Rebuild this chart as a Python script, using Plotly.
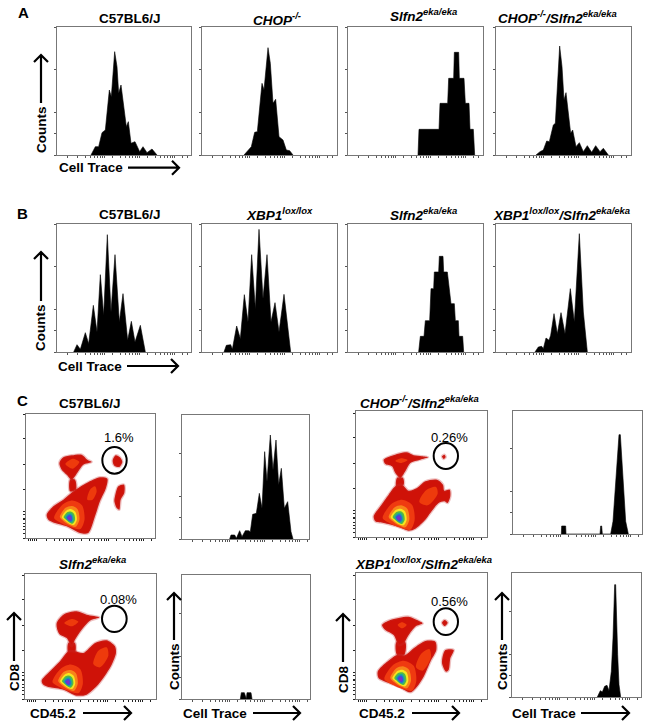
import plotly.graph_objects as go

W, H = 650, 725

# ---------- histogram outlines: channel (x) and counts (y) ----------
a1_x = [102,115,125,135,145,157,163,173,180,185,192,200,208,214,222,234,248,258,270,285,300]
a1_y = [0,25,25,67,75,195,175,310,265,185,210,145,85,100,35,40,10,25,7,18,0]
a2_x = [126,138,148,158,166,180,186,198,205,213,221,231,243,253,263,273]
a2_y = [0,15,25,68,70,215,195,322,275,155,167,55,45,15,13,0]
a3_x = [210,213,273,276,299,302,317,319,332,334,348,352,363,366,376,380]
a3_y = [0,77,77,155,155,230,230,308,308,230,230,155,155,77,77,0]
a4_x = [120,132,142,152,160,172,178,191,198,204,210,218,224,230,240,250,262,274,287,299,312,322,337]
a4_y = [0,10,15,42,40,90,95,327,265,165,187,125,65,75,25,37,10,28,8,28,10,20,0]
b1_x = [50,60,70,85,95,109,120,130,140,151,162,174,187,198,212,223,234,250,265]
b1_y = [0,22,8,58,25,140,60,232,110,352,120,292,90,175,35,92,30,80,0]
b2_x = [66,73,86,91,104,115,127,138,149,160,171,183,195,207,219,231,246,266]
b2_y = [0,20,22,8,78,40,172,90,292,130,368,160,292,90,148,60,173,0]
b3_x = [212,217,228,232,245,249,257,259,272,274,285,287,298,303,309,319,322,331,333,344,347]
b3_y = [0,47,47,94,94,190,190,240,240,287,287,240,240,190,145,145,94,94,47,47,0]
b4_x = [117,127,137,142,150,159,164,174,184,195,207,223,235,250,262,274]
b4_y = [0,15,17,10,42,35,50,115,55,118,55,190,90,355,120,0]
c1_x = [143,147,158,163,173,180,190,200,205,212,223,232,240,248,255,265,273,282,290,298,307,317,327,333]
c1_y = [0,12,12,2,25,7,25,25,22,74,77,137,92,262,172,312,207,297,162,212,92,112,22,0]
c2_x = [145,146,158,159,261,263,266,268,293,300,318,322,338,346]
c2_y = [0,24,24,0,0,24,24,0,0,38,298,298,38,0]
c3_x = [175,178,187,191,193,195,207,210]
c3_y = [0,19,19,0,0,19,19,0]
c4_x = [256,265,271,278,285,291,298,303,308,311,317,321,326]
c4_y = [0,19,15,32,35,19,77,177,337,337,127,37,0]

# ---------- density populations (CD45.2, CD8) ----------
d1_main = [(62,70),(82,95),(112,115),(142,140),(182,165),(222,182),(244,178),(240,150),(222,110),(207,65),(187,15),(162,15),(122,35),(87,45),(67,55)]
d1_top = [(100,225),(112,242),(137,248),(167,250),(184,235),(197,228),(172,220),(157,200),(147,185),(137,175),(122,190),(107,205)]
d1_tail = [(132,175),(147,175),(150,145),(132,140)]
d1_dot = [(260,232),(269,248),(282,242),(289,228),(280,213),(265,217)]
d1_right = [(267,125),(277,155),(294,160),(295,135),(284,115),(280,85),(272,90),(265,110)]
d1_gate = (229,273,302,193)
d1_center = (130,60)

d2_main = [(53,62),(73,92),(98,127),(118,152),(138,157),(158,139),(183,147),(208,167),(243,172),(261,157),(265,139),(281,142),(283,122),(275,102),(265,107),(248,102),(223,72),(208,52),(178,25),(158,19),(123,32),(83,42),(58,47)]
d2_top = [(83,232),(108,244),(153,254),(173,245),(198,242),(216,239),(193,232),(163,222),(148,197),(133,177),(118,192),(108,212),(88,219)]
d2_tail = [(123,177),(141,177),(143,157),(121,152)]
d2_dot = [(258,242),(265,247),(269,240),(263,234)]
d2_gate = (233,282,306,204)
d2_center = (128,57)

d3_main = [(50,55),(75,83),(105,113),(130,143),(150,143),(175,138),(210,168),(245,176),(270,158),(273,138),(260,103),(235,63),(215,38),(185,13),(155,10),(115,28),(75,35),(55,43)]
d3_top = [(95,228),(115,253),(155,263),(185,253),(223,245),(195,235),(170,208),(150,178),(140,158),(125,183),(105,193),(97,208)]
d3_tail = [(130,168),(150,168),(150,138),(130,138)]
d3_gate = (231,280,305,201)
d3_center = (128,51)

d4_main = [(65,82),(88,107),(123,132),(148,132),(173,152),(208,174),(238,172),(241,147),(223,112),(203,67),(183,37),(163,20),(128,37),(88,52),(68,62)]
d4_top = [(78,222),(103,237),(158,247),(183,237),(200,227),(178,217),(158,192),(143,167),(128,162),(113,192),(88,207)]
d4_tail = [(121,170),(148,170),(145,132),(123,132)]
d4_dot = [(258,229),(266,237),(275,229),(266,219)]
d4_right = [(261,132),(268,147),(293,147),(283,122),(278,87),(270,82),(258,107)]
d4_gate = (233,272,306,192)
d4_center = (133,60)

# nested density levels, as offsets from the densest point
core_levels = [
    [(-48,0),(-22,42),(10,55),(40,40),(48,-5),(35,-35),(0,-28),(-28,-15)],
    [(-30,3),(-12,32),(8,38),(26,28),(32,-5),(20,-28),(0,-22),(-18,-10)],
    [(-24,2),(-9,24),(6,28),(19,20),(24,-5),(15,-22),(0,-18),(-14,-8)],
    [(-18,2),(-7,18),(6,20),(15,13),(18,-6),(10,-18),(0,-14),(-10,-6)],
    [(-13,2),(-5,13),(5,15),(11,8),(13,-6),(7,-14),(-1,-11),(-8,-5)],
    [(-9,2),(-3,9),(4,10),(8,5),(9,-6),(4,-11),(-2,-8),(-6,-4)],
    [(-5,1),(0,5),(4,4),(5,-4),(1,-7),(-3,-4)],
]
core_colors = ["#ef3a10", "#f7851a", "#f7e51f", "#52b848", "#1aa3a3", "#3a52d8", "#7a2fc8"]
d1_warm = [(184,115),(192,145),(207,155),(212,140),(200,115)]
d3_warm = [(205,105),(220,145),(245,155),(250,130),(225,95)]
d2_warm = [(190,105),(210,140),(240,150),(245,130),(215,95)]
d4_warm = [(180,95),(195,135),(220,150),(225,125),(200,85)]
d2_hot = [(118,228),(135,236),(155,231),(135,222)]
d3_hot = [(118,228),(140,240),(160,232),(140,218)]
d4_hot = [(125,222),(138,230),(152,222),(138,212)]
d1_hot = [(118,222),(140,238),(160,228),(140,208)]

# ---------- tick positions ----------
hist_xticks = [30,60,85,100,112,122,130,136,142,165,190,205,217,227,235,241,247,270,295,310,322,332,340,346,352,375,390]
hist_yticks = [0,64,128,256,383]
dens_xticks = [6,12,18,24,30,60,85,100,112,122,130,136,142,165,190,205,217,227,235,241,247,270,295,310,322,332,340,346,352,375]
dens_yticks = [0,15,25,35,45,55,60,70,80,145,220,300,372]

# panel boxes in the page: left, top, right, bottom
boxes_hist = {
    "a1": (57,27,191,155), "a2": (202,27,337,155), "a3": (348,27,483,155), "a4": (496,27,631,155),
    "b1": (57,224,191,352), "b2": (202,224,337,352), "b3": (348,224,483,352), "b4": (496,224,631,352),
    "c1": (182,415,309,539), "c2": (513,411,642,534), "c3": (182,575,310,699), "c4": (512,573,641,697),
}
boxes_dens = {
    "d1": (26,414,155,538), "d2": (356,411,487,537), "d3": (25,574,156,699), "d4": (356,573,487,699),
}
hist_data = {"a1":(a1_x,a1_y),"a2":(a2_x,a2_y),"a3":(a3_x,a3_y),"a4":(a4_x,a4_y),
             "b1":(b1_x,b1_y),"b2":(b2_x,b2_y),"b3":(b3_x,b3_y),"b4":(b4_x,b4_y),
             "c1":(c1_x,c1_y),"c2":(c2_x,c2_y),"c3":(c3_x,c3_y),"c4":(c4_x,c4_y)}
dens_data = {
    "d1": dict(blobs=[d1_tail,d1_main,d1_top,d1_dot,d1_right], warm=[d1_warm,d1_hot], center=d1_center, gate=d1_gate, scale=0.95),
    "d2": dict(blobs=[d2_tail,d2_main,d2_top,d2_dot], warm=[d2_warm,d2_hot], center=d2_center, gate=d2_gate, scale=1.0),
    "d3": dict(blobs=[d3_tail,d3_main,d3_top], warm=[d3_warm,d3_hot], center=d3_center, gate=d3_gate, scale=0.95),
    "d4": dict(blobs=[d4_tail,d4_main,d4_top,d4_dot,d4_right], warm=[d4_warm,d4_hot], center=d4_center, gate=d4_gate, scale=1.0),
}

fig = go.Figure()
layout = {}
shapes = []
counter = [0]

def make_axes(box, xticks, yticks, tickcolor):
    counter[0] += 1
    n = counter[0]
    l, t, r, b = box
    xname, yname = f"xaxis{n}", f"yaxis{n}"
    xr, yr = (r - l) * 3, (b - t) * 3
    layout[xname] = dict(domain=[l / W, r / W], range=[0, xr], anchor=f"y{n}", showgrid=False, zeroline=False,
                         showline=True, mirror=True, linecolor="#777777", linewidth=1,
                         ticks="outside", ticklen=2, tickwidth=1, tickcolor=tickcolor,
                         tickvals=[v for v in xticks if v <= xr], showticklabels=False, fixedrange=True)
    layout[yname] = dict(domain=[1 - b / H, 1 - t / H], range=[0, yr], anchor=f"x{n}", showgrid=False,
                         zeroline=True, zerolinecolor="#111111", zerolinewidth=1,
                         showline=True, mirror=True, linecolor="#777777", linewidth=1,
                         ticks="outside", ticklen=2, tickwidth=1, tickcolor=tickcolor,
                         tickvals=[v for v in yticks if v <= yr], showticklabels=False, fixedrange=True)
    return f"x{n}", f"y{n}"

for key, box in boxes_hist.items():
    xa, ya = make_axes(box, hist_xticks, hist_yticks, "#555555")
    xs, ys = hist_data[key]
    fig.add_trace(go.Scatter(x=xs, y=ys, xaxis=xa, yaxis=ya, mode="lines", fill="toself",
                             fillcolor="#000000", line=dict(color="#000000", width=0.6),
                             hoverinfo="skip", showlegend=False))

def poly(points, xa, ya, color, edge=None, width=0):
    xs = [p[0] for p in points] + [points[0][0]]
    ys = [p[1] for p in points] + [points[0][1]]
    fig.add_trace(go.Scatter(x=xs, y=ys, xaxis=xa, yaxis=ya, mode="lines", fill="toself", fillcolor=color,
                             line=dict(color=edge or color, width=width, shape="spline", smoothing=0.8),
                             hoverinfo="skip", showlegend=False))

for key, box in boxes_dens.items():
    xa, ya = make_axes(box, dens_xticks, dens_yticks, "#222222")
    d = dens_data[key]
    for blob in d["blobs"]:
        poly(blob, xa, ya, "#cf1208", "rgba(200,50,50,0.30)", 2.5)
    for warm in d["warm"]:
        poly(warm, xa, ya, "#ee3a0c")
    cx, cy = d["center"]
    s = d["scale"]
    for level, color in zip(core_levels, core_colors):
        poly([(cx + s * p[0], cy + s * p[1]) for p in level], xa, ya, color)
    x0, y0, x1, y1 = d["gate"]
    shapes.append(dict(type="circle", xref=xa, yref=ya, x0=x0, y0=y0, x1=x1, y1=y1,
                       line=dict(color="#000000", width=2)))

# ---------- labels ----------
def px(x): return x / W
def py(y): return 1 - y / H

annotations = []
def text(x, y, s, size=13.5, angle=0):
    annotations.append(dict(xref="paper", yref="paper", x=px(x), y=py(y), text=s, showarrow=False,
                            xanchor="center", yanchor="middle", textangle=angle,
                            font=dict(family="Liberation Sans", size=size, color="#000000")))

def arrow(x0, y0, x1, y1):
    head = 7
    if x0 == x1:
        sign = 1 if y1 > y0 else -1
        hp = f"M {px(x1-head)} {py(y1-sign*head)} L {px(x1)} {py(y1)} L {px(x1+head)} {py(y1-sign*head)}"
    else:
        hp = f"M {px(x1-head)} {py(y1-head)} L {px(x1)} {py(y1)} L {px(x1-head)} {py(y1+head)}"
    shapes.append(dict(type="path", xref="paper", yref="paper",
                       path=f"M {px(x0)} {py(y0)} L {px(x1)} {py(y1)} " + hp,
                       line=dict(color="#000000", width=2.2)))

SL = "<b><i>Slfn2<sup>eka/eka</sup></i></b>"
CH = "<b><i>CHOP<sup>-/-</sup></i></b>"
CHSL = "<b><i>CHOP<sup>-/-</sup>/Slfn2<sup>eka/eka</sup></i></b>"
XB = "<b><i>XBP1<sup>lox/lox</sup></i></b>"
XBSL = "<b><i>XBP1<sup>lox/lox</sup>/Slfn2<sup>eka/eka</sup></i></b>"
B6 = "<b>C57BL6/J</b>"

for x, y, s in [(23,13,"A"), (22,213,"B"), (22,400,"C")]:
    text(x, y, f"<b>{s}</b>", 15)
for x, y, s in [(129.5,18.5,B6),(277,19,CH),(424,15,SL),(557,17,CHSL),
                (129.5,215,B6),(279,214,XB),(424,214,SL),(561,214,XBSL),
                (90,404,B6),(419,402,CHSL),(92,563,SL),(423,563,XBSL)]:
    text(x, y, s)
for x, y, s in [(118.7,437,"1.6%"),(449,437,"0.26%"),(118,599,"0.08%"),(449,601,"0.56%")]:
    text(x, y, s, 13)

COUNTS, TRACE, CD8, CD45 = "<b>Counts</b>", "<b>Cell Trace</b>", "<b>CD8</b>", "<b>CD45.2</b>"
text(41,130,COUNTS,13.5,-90); arrow(41,103,41,55); text(91,167.5,TRACE); arrow(128,167.7,179,167.7)
text(41,328,COUNTS,13.5,-90); arrow(41,301,41,252); text(90,366,TRACE); arrow(127,366,178,366)
text(14,678,CD8,13.5,-90); arrow(14,661,14,613); text(53,713,CD45); arrow(83,713,131,713)
text(174,667,COUNTS,13.5,-90); arrow(174,640,174,593); text(215,713,TRACE); arrow(253,713,300,713)
text(343,680,CD8,13.5,-90); arrow(343,662,343,614); text(382,713,CD45); arrow(412,713,459,713)
text(502,667,COUNTS,13.5,-90); arrow(502,640,502,593); text(544,713,TRACE); arrow(581,713,629,713)

fig.update_layout(width=W, height=H, margin=dict(l=0, r=0, t=0, b=0), paper_bgcolor="white",
                  plot_bgcolor="white", showlegend=False, annotations=annotations, shapes=shapes,
                  font=dict(family="Liberation Sans"), **layout)
fig.write_html("out.html", post_script="document.body.style.margin='0';", config={"displayModeBar": False})
